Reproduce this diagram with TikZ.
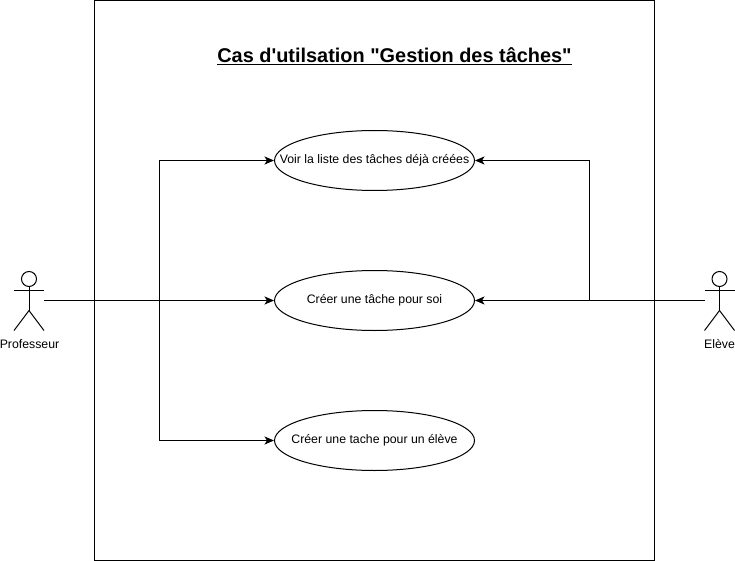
\documentclass[tikz,border=0pt]{standalone}
\usepackage{fontspec}
\newfontfamily\lib{Liberation Sans}
\usetikzlibrary{shapes.geometric,arrows.meta}
\newcommand{\usetext}[1]{\raisebox{-1pt}{\makebox[0pt]{#1}}}
\tikzset{
  line/.style={draw=black,line width=1pt},
  usecase/.style={line,ellipse,minimum width=200pt,minimum height=60pt,inner sep=0pt,font=\lib\fontsize{12.3pt}{14pt}\selectfont,fill=white},
  conn/.style={line,-{Stealth[length=9.5pt,width=8pt,inset=2.5pt]}},
  actorbox/.style={minimum width=30pt,minimum height=60pt,inner sep=0pt,outer sep=0pt},
  actorlabel/.style={font=\lib\fontsize{12.3pt}{14pt}\selectfont,inner sep=0pt},
  frame/.style={line},
  titletext/.style={font=\lib\bfseries\fontsize{19.9pt}{24pt}\selectfont,inner sep=0pt}
}
\begin{document}
\begin{tikzpicture}[x=1pt,y=-1pt]
\useasboundingbox (0,0) rectangle (735,561);
\fill[white] (0,0) rectangle (735,561);
\node[frame,minimum width=560pt,minimum height=560pt,inner sep=0pt,outer sep=0pt] (sys) at (374.5,280.5) {};
\node[titletext] (title) at (394.5,56.5) {\underline{Cas d'utilsation "Gestion des tâches"}};
\node[usecase] (e1) at (374.5,160.5) {\usetext{Voir la liste des tâches déjà créées}};
\node[usecase] (e2) at (374.5,300.5) {\usetext{Créer une tâche pour soi}};
\node[usecase] (e3) at (374.5,440.5) {\usetext{Créer une tache pour un élève}};
\node[actorbox] (prof) at (29,300.5) {};
\node[actorbox] (eleve) at (719.5,300.5) {};
\foreach \a in {prof,eleve}{
  \draw[line] ([yshift=21.5pt]\a.center) circle (7.5pt);
  \draw[line] ([yshift=14pt]\a.center) -- ([yshift=-10pt]\a.center);
  \draw[line] ([yshift=10pt]\a.west) -- ([yshift=10pt]\a.east);
  \draw[line] ([yshift=-10pt]\a.center) -- (\a.south west);
  \draw[line] ([yshift=-10pt]\a.center) -- (\a.south east);
}
\node[actorlabel] (proflabel) at (29.5,344) {Professeur};
\node[actorlabel] (elevelabel) at (719.5,344) {Elève};
\coordinate (bl) at (159.5,300.5);
\coordinate (br) at (589.5,300.5);
\draw[conn] (prof.east) -- (e2.west);
\draw[conn] (bl) |- (e1.west);
\draw[conn] (bl) |- (e3.west);
\draw[conn] (eleve.west) -- (e2.east);
\draw[conn] (br) |- (e1.east);
\end{tikzpicture}
\end{document}
